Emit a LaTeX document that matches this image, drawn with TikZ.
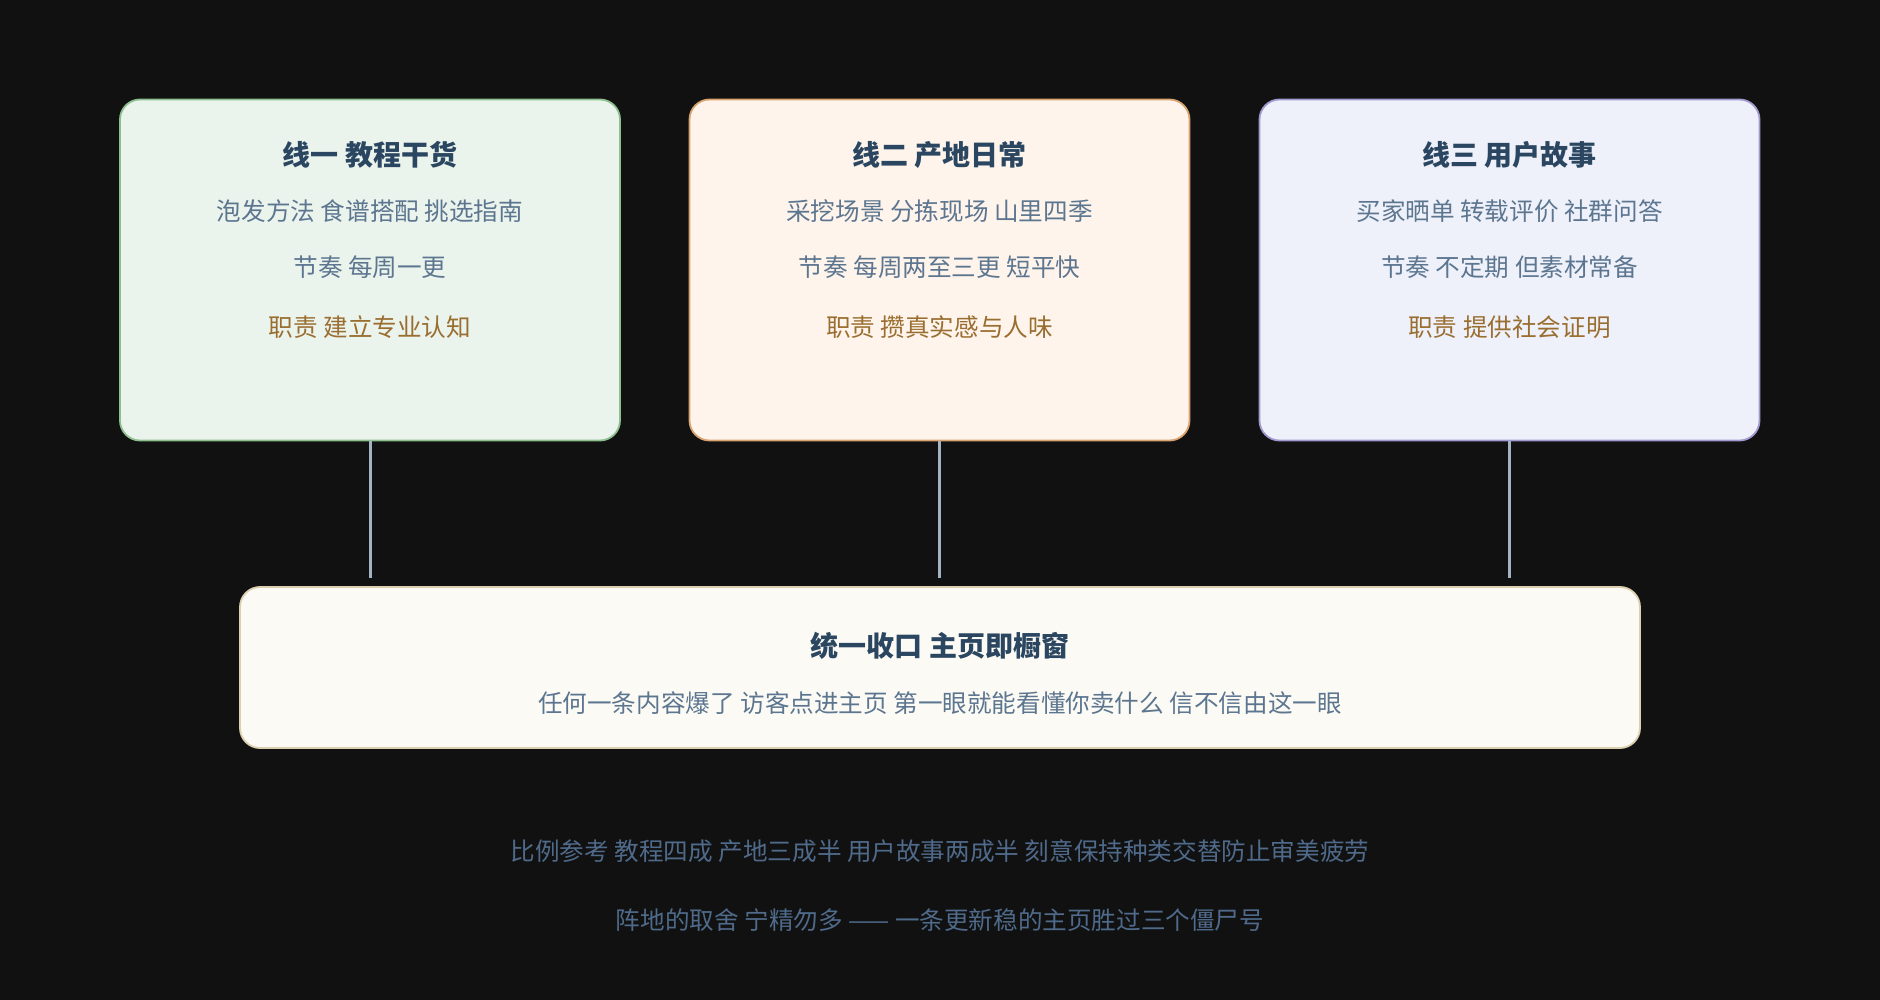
\documentclass[tikz,border=0pt]{standalone}
\usepackage{fontspec}
\setmainfont{Noto Sans CJK SC}
\usepackage{tikz}
\usetikzlibrary{positioning,calc}

\definecolor{bgc}{HTML}{111111}
\definecolor{titlec}{HTML}{2B4660}
\definecolor{textc}{HTML}{5D7690}
\definecolor{dutyc}{HTML}{9A6E30}
\definecolor{footc}{HTML}{4F6A8A}
\definecolor{linkc}{HTML}{A3B3C4}
\definecolor{greenfill}{HTML}{EAF3EC}
\definecolor{greenline}{HTML}{8DBF8F}
\definecolor{peachfill}{HTML}{FEF4EB}
\definecolor{peachline}{HTML}{D9A470}
\definecolor{bluefill}{HTML}{EEF1FA}
\definecolor{blueline}{HTML}{A09AD0}
\definecolor{hubfill}{HTML}{FBFAF4}
\definecolor{hubline}{HTML}{DCCFAF}

\begin{document}
\begin{tikzpicture}[x=1pt, y=-1pt,
  card/.style={draw, line width=1.8pt, rounded corners=20pt, minimum width=500pt, minimum height=341pt},
  head/.style={font=\fontsize{28}{32}\selectfont\bfseries, text=titlec},
  body/.style={font=\fontsize{24.6}{28}\selectfont, text=textc},
  duty/.style={font=\fontsize{24.6}{28}\selectfont, text=dutyc},
  foot/.style={font=\fontsize{24.6}{28}\selectfont, text=footc},
  link/.style={draw=linkc, line width=3pt, shorten >=8pt}]
  \fill[bgc] (0,0) rectangle (1880,1000);

  % the three lines
  \node[card, draw=greenline, fill=greenfill] (l1) at (370,270) {};
  \node[card, draw=peachline, fill=peachfill] (l2) at (939.5,270) {};
  \node[card, draw=blueline, fill=bluefill] (l3) at (1509.5,270) {};

  \node[head] (h1) at (370,155) {线一 教程干货};
  \node[body] (a1) at (370,211) {泡发方法 食谱搭配 挑选指南};
  \node[body] (b1) at (370,267) {节奏 每周一更};
  \node[duty] (c1) at (370,327) {职责 建立专业认知};

  \node[head] (h2) at (939.5,155) {线二 产地日常};
  \node[body] (a2) at (939.5,211) {采挖场景 分拣现场 山里四季};
  \node[body] (b2) at (939.5,267) {节奏 每周两至三更 短平快};
  \node[duty] (c2) at (939.5,327) {职责 攒真实感与人味};

  \node[head] (h3) at (1509.5,155) {线三 用户故事};
  \node[body] (a3) at (1509.5,211) {买家晒单 转载评价 社群问答};
  \node[body] (b3) at (1509.5,267) {节奏 不定期 但素材常备};
  \node[duty] (c3) at (1509.5,327) {职责 提供社会证明};

  % where they meet
  \node[card, draw=hubline, fill=hubfill, minimum width=1400pt, minimum height=161pt] (hub) at (940,667.5) {};
  \node[head] (hh) at (940,646) {统一收口 主页即橱窗};
  \node[body] (hs) at (940,703) {任何一条内容爆了 访客点进主页 第一眼就能看懂你卖什么 信不信由这一眼};

  \path[link]
  (l1.south) edge (l1.south |- hub.north)
  (l2.south) edge (l2.south |- hub.north)
  (l3.south) edge (l3.south |- hub.north);

  \node[foot] (f1) at (940,851) {比例参考 教程四成 产地三成半 用户故事两成半 刻意保持种类交替防止审美疲劳};
  \node[foot] (f2) at (940,920) {阵地的取舍 宁精勿多 —— 一条更新稳的主页胜过三个僵尸号};
\end{tikzpicture}
\end{document}
